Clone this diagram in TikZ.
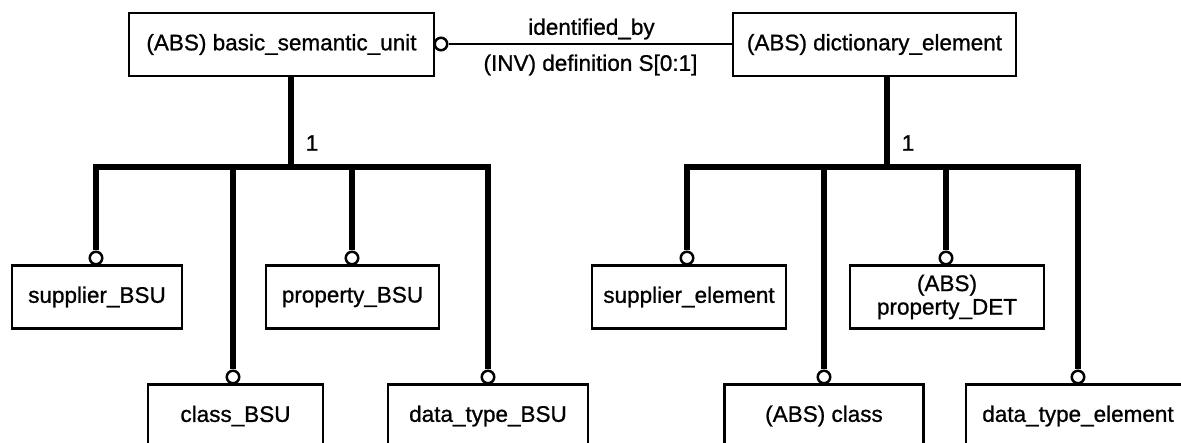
\documentclass[tikz,border=0pt]{standalone}
\usepackage{fontspec}
\setmainfont{Liberation Sans}[FakeBold=0.9]
\begin{document}
\begin{tikzpicture}[x=1pt,y=-1pt,
  every node/.style={font=\fontsize{22.5}{23.5}\selectfont},
  entity/.style={draw,line width=2.2pt,inner sep=0pt,minimum height=63pt,align=center},
  ring/.style={draw,circle,line width=2.5pt,fill=white,minimum size=12.5pt,inner sep=0pt},
  tree/.style={line width=6.5pt,line join=miter},
  assoc/.style={line width=2pt},
  lbl/.style={inner sep=0pt}]
\useasboundingbox (0,0) rectangle (1181,443);
\clip (0,0) rectangle (1181,443);
% top entities
\node[entity,minimum width=305pt] (bsu) at (281.5,44.5) {(ABS) basic\_semantic\_unit};
\node[entity,minimum width=283pt] (de) at (874.5,44.5) {(ABS) dictionary\_element};
% association
\node[ring] (ra) at (441,44) {};
\draw[assoc] (ra.east) -- (ra.east -| de.west);
\node[lbl] (lid) at (591.5,29) {identified\_by};
\node[lbl] (linv) at (590.5,65) {(INV) definition S[0:1]};
% left children
\node[entity,minimum width=170pt] (sbsu) at (97,297) {supplier\_BSU};
\node[entity,minimum width=173pt] (pbsu) at (352.5,297) {property\_BSU};
\node[entity,minimum width=175pt] (cbsu) at (235.5,416) {class\_BSU};
\node[entity,minimum width=200pt] (dbsu) at (488,416) {data\_type\_BSU};
% right children
\node[entity,minimum width=194pt] (sel) at (689,297) {supplier\_element};
\node[entity,minimum width=194pt] (pdet) at (947,297) {(ABS)\\property\_DET};
\node[entity,minimum width=199pt] (cls) at (824,416) {(ABS) class};
\node[entity,minimum width=224pt] (dte) at (1078,416) {data\_type\_element};
% rings on children
\node[ring] (r1) at (96,258) {};
\node[ring] (r2) at (233,377) {};
\node[ring] (r3) at (352,258) {};
\node[ring] (r4) at (488,377) {};
\node[ring] (r5) at (687,258) {};
\node[ring] (r6) at (824,377) {};
\node[ring] (r7) at (946,258) {};
\node[ring] (r8) at (1078,377) {};
% left tree
\coordinate (bl) at (291,167);
\draw[tree] (bl |- bsu.south) -- (bl);
\draw[tree] (r1.north) -- (r1.north |- bl) -- (r4.north |- bl) -- (r4.north);
\draw[tree] (r2.north |- bl) -- (r2.north);
\draw[tree] (r3.north |- bl) -- (r3.north);
\node[lbl] (one1) at (312,143) {1};
% right tree
\coordinate (br) at (887,167);
\draw[tree] (br |- de.south) -- (br);
\draw[tree] (r5.north) -- (r5.north |- br) -- (r8.north |- br) -- (r8.north);
\draw[tree] (r6.north |- br) -- (r6.north);
\draw[tree] (r7.north |- br) -- (r7.north);
\node[lbl] (one2) at (908,143) {1};
\end{tikzpicture}
\end{document}
